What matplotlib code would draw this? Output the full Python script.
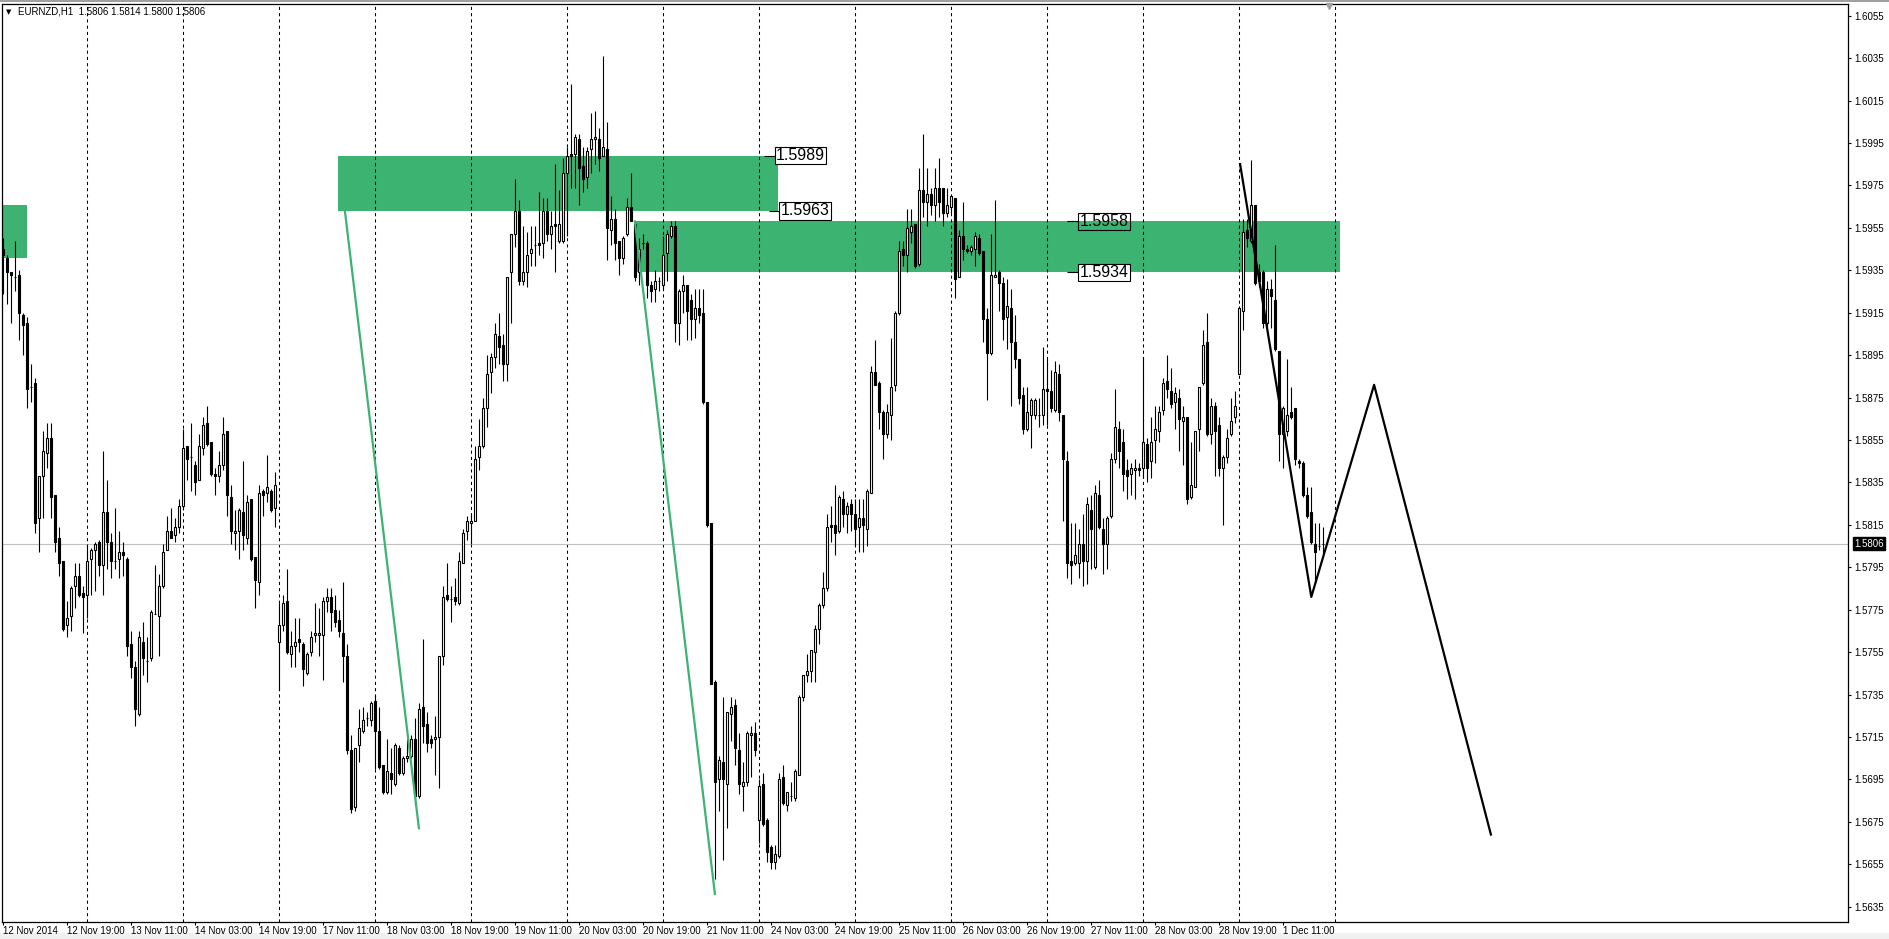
import numpy as np
import matplotlib.pyplot as plt
import matplotlib.transforms as mtransforms
from matplotlib.patches import Rectangle

plt.rcParams['font.family'] = ['Liberation Sans', 'DejaVu Sans']

# EURNZD H1, first bar 12 Nov 2014 03:00, one value per hourly bar
opens = [
    1.5945, 1.5941, 1.5934, 1.5932, 1.5933, 1.5914, 1.5910, 1.5880, 1.5882, 1.5818,
    1.5838, 1.5849, 1.5856, 1.5829, 1.5809, 1.5798, 1.5768, 1.5772, 1.5786, 1.5791,
    1.5783, 1.5782, 1.5799, 1.5803, 1.5807, 1.5796, 1.5821, 1.5807, 1.5798, 1.5799,
    1.5802, 1.5799, 1.5759, 1.5748, 1.5726, 1.5760, 1.5751, 1.5752, 1.5773, 1.5772,
    1.5786, 1.5803, 1.5812, 1.5810, 1.5814, 1.5824, 1.5852, 1.5847, 1.5843, 1.5836,
    1.5851, 1.5863, 1.5854, 1.5839, 1.5838, 1.5843, 1.5859, 1.5828, 1.5811, 1.5812,
    1.5821, 1.5809, 1.5827, 1.5800, 1.5788, 1.5831, 1.5830, 1.5831, 1.5823, 1.5760,
    1.5768, 1.5779, 1.5754, 1.5758, 1.5761, 1.5759, 1.5745, 1.5755, 1.5763, 1.5763,
    1.5763, 1.5779, 1.5781, 1.5775, 1.5770, 1.5764, 1.5753, 1.5709, 1.5682, 1.5711,
    1.5718, 1.5724, 1.5723, 1.5732, 1.5718, 1.5702, 1.5689, 1.5698, 1.5693, 1.5710,
    1.5698, 1.5705, 1.5706, 1.5714, 1.5687, 1.5729, 1.5721, 1.5714, 1.5714, 1.5715,
    1.5753, 1.5782, 1.5780, 1.5781, 1.5778, 1.5797, 1.5812, 1.5816, 1.5817, 1.5847,
    1.5852, 1.5870, 1.5887, 1.5894, 1.5904, 1.5900, 1.5891, 1.5934, 1.5952, 1.5963,
    1.5930, 1.5934, 1.5943, 1.5947, 1.5948, 1.5948, 1.5963, 1.5952, 1.5957, 1.5949,
    1.5949, 1.5981, 1.5990, 1.5990, 1.5997, 1.5984, 1.5979, 1.5992, 1.5997, 1.5997,
    1.5989, 1.5992, 1.5954, 1.5959, 1.5949, 1.5941, 1.5952, 1.5965, 1.5957, 1.5934,
    1.5948, 1.5948, 1.5928, 1.5926, 1.5930, 1.5928, 1.5943, 1.5951, 1.5956, 1.5910,
    1.5925, 1.5928, 1.5921, 1.5912, 1.5917, 1.5915, 1.5873, 1.5816, 1.5741, 1.5695,
    1.5703, 1.5693, 1.5726, 1.5730, 1.5709, 1.5692, 1.5694, 1.5716, 1.5717, 1.5676,
    1.5693, 1.5676, 1.5663, 1.5656, 1.5659, 1.5696, 1.5683, 1.5687, 1.5686, 1.5697,
    1.5734, 1.5744, 1.5746, 1.5755, 1.5766, 1.5777, 1.5785, 1.5815, 1.5815, 1.5812,
    1.5827, 1.5820, 1.5825, 1.5820, 1.5814, 1.5818, 1.5813, 1.5830, 1.5887, 1.5882,
    1.5868, 1.5858, 1.5867, 1.5881, 1.5915, 1.5945, 1.5942, 1.5953, 1.5957, 1.5938,
    1.5973, 1.5967, 1.5971, 1.5966, 1.5974, 1.5974, 1.5962, 1.5965, 1.5969, 1.5932,
    1.5951, 1.5945, 1.5944, 1.5945, 1.5950, 1.5944, 1.5912, 1.5896, 1.5932, 1.5934,
    1.5929, 1.5913, 1.5917, 1.5901, 1.5893, 1.5876, 1.5860, 1.5867, 1.5867, 1.5867,
    1.5867, 1.5879, 1.5878, 1.5869, 1.5886, 1.5867, 1.5845, 1.5798, 1.5797, 1.5797,
    1.5806, 1.5798, 1.5822, 1.5795, 1.5829, 1.5813, 1.5806, 1.5819, 1.5846, 1.5860,
    1.5854, 1.5841, 1.5839, 1.5841, 1.5842, 1.5842, 1.5853, 1.5845, 1.5855, 1.5859,
    1.5869, 1.5883, 1.5878, 1.5873, 1.5875, 1.5864, 1.5866, 1.5828, 1.5833, 1.5860,
    1.5882, 1.5901, 1.5858, 1.5871, 1.5862, 1.5842, 1.5847, 1.5858, 1.5866, 1.5886,
    1.5916, 1.5954, 1.5949, 1.5966, 1.5934, 1.5934, 1.5910, 1.5926, 1.5921, 1.5897,
    1.5858, 1.5859, 1.5868, 1.5870, 1.5845, 1.5844, 1.5829, 1.5821, 1.5806, 1.5805,
    1.5806,
]
highs = [
    1.5950, 1.5942, 1.5934, 1.5949, 1.5935, 1.5915, 1.5913, 1.5891, 1.5884, 1.5838,
    1.5859, 1.5863, 1.5863, 1.5829, 1.5814, 1.5798, 1.5779, 1.5786, 1.5797, 1.5797,
    1.5786, 1.5806, 1.5804, 1.5807, 1.5808, 1.5850, 1.5836, 1.5811, 1.5823, 1.5812,
    1.5807, 1.5800, 1.5765, 1.5751, 1.5765, 1.5769, 1.5762, 1.5775, 1.5796, 1.5792,
    1.5806, 1.5819, 1.5823, 1.5818, 1.5827, 1.5860, 1.5852, 1.5863, 1.5845, 1.5858,
    1.5866, 1.5871, 1.5854, 1.5842, 1.5850, 1.5866, 1.5859, 1.5834, 1.5822, 1.5823,
    1.5845, 1.5829, 1.5827, 1.5800, 1.5834, 1.5832, 1.5848, 1.5832, 1.5840, 1.5778,
    1.5782, 1.5794, 1.5765, 1.5771, 1.5771, 1.5760, 1.5755, 1.5765, 1.5778, 1.5776,
    1.5781, 1.5785, 1.5785, 1.5782, 1.5775, 1.5788, 1.5759, 1.5716, 1.5710, 1.5728,
    1.5729, 1.5727, 1.5732, 1.5735, 1.5729, 1.5702, 1.5714, 1.5710, 1.5712, 1.5711,
    1.5706, 1.5714, 1.5716, 1.5724, 1.5731, 1.5761, 1.5727, 1.5716, 1.5725, 1.5753,
    1.5786, 1.5797, 1.5786, 1.5790, 1.5802, 1.5813, 1.5819, 1.5820, 1.5852, 1.5865,
    1.5875, 1.5895, 1.5896, 1.5910, 1.5915, 1.5905, 1.5932, 1.5952, 1.5978, 1.5968,
    1.5956, 1.5953, 1.5956, 1.5956, 1.5972, 1.5969, 1.5969, 1.5963, 1.5985, 1.5973,
    1.5988, 1.5993, 1.6023, 1.5999, 1.5999, 1.5993, 1.5993, 1.6009, 1.6010, 1.6002,
    1.6036, 1.6005, 1.5970, 1.5964, 1.5949, 1.5951, 1.5969, 1.5981, 1.5958, 1.5950,
    1.5952, 1.5949, 1.5930, 1.5935, 1.5932, 1.5951, 1.5954, 1.5958, 1.5958, 1.5926,
    1.5933, 1.5928, 1.5924, 1.5926, 1.5926, 1.5926, 1.5873, 1.5816, 1.5742, 1.5706,
    1.5734, 1.5727, 1.5734, 1.5733, 1.5717, 1.5703, 1.5718, 1.5720, 1.5722, 1.5695,
    1.5698, 1.5677, 1.5664, 1.5664, 1.5698, 1.5702, 1.5689, 1.5694, 1.5700, 1.5735,
    1.5744, 1.5754, 1.5756, 1.5768, 1.5778, 1.5793, 1.5820, 1.5824, 1.5834, 1.5829,
    1.5831, 1.5826, 1.5827, 1.5827, 1.5827, 1.5827, 1.5832, 1.5890, 1.5902, 1.5883,
    1.5869, 1.5872, 1.5903, 1.5916, 1.5949, 1.5949, 1.5964, 1.5964, 1.5957, 1.5983,
    1.5999, 1.5983, 1.5974, 1.5983, 1.5988, 1.5974, 1.5974, 1.5970, 1.5969, 1.5954,
    1.5967, 1.5947, 1.5947, 1.5953, 1.5952, 1.5944, 1.5917, 1.5952, 1.5968, 1.5935,
    1.5932, 1.5931, 1.5926, 1.5914, 1.5893, 1.5880, 1.5880, 1.5875, 1.5875, 1.5875,
    1.5899, 1.5893, 1.5888, 1.5892, 1.5891, 1.5867, 1.5850, 1.5816, 1.5816, 1.5813,
    1.5820, 1.5828, 1.5829, 1.5834, 1.5836, 1.5818, 1.5819, 1.5849, 1.5879, 1.5864,
    1.5860, 1.5846, 1.5844, 1.5846, 1.5844, 1.5894, 1.5856, 1.5866, 1.5871, 1.5871,
    1.5884, 1.5895, 1.5889, 1.5880, 1.5879, 1.5871, 1.5866, 1.5854, 1.5859, 1.5880,
    1.5907, 1.5915, 1.5875, 1.5873, 1.5866, 1.5848, 1.5860, 1.5875, 1.5878, 1.5918,
    1.5959, 1.5959, 1.5987, 1.5966, 1.5938, 1.5935, 1.5930, 1.5931, 1.5947, 1.5897,
    1.5871, 1.5893, 1.5880, 1.5870, 1.5846, 1.5845, 1.5833, 1.5833, 1.5816, 1.5816,
    1.5814,
]
lows = [
    1.5924, 1.5919, 1.5910, 1.5925, 1.5902, 1.5895, 1.5870, 1.5873, 1.5811, 1.5802,
    1.5818, 1.5842, 1.5818, 1.5802, 1.5791, 1.5765, 1.5762, 1.5765, 1.5776, 1.5781,
    1.5764, 1.5771, 1.5782, 1.5784, 1.5791, 1.5782, 1.5794, 1.5790, 1.5794, 1.5790,
    1.5791, 1.5753, 1.5743, 1.5720, 1.5725, 1.5744, 1.5741, 1.5751, 1.5773, 1.5753,
    1.5785, 1.5803, 1.5809, 1.5807, 1.5811, 1.5822, 1.5836, 1.5831, 1.5829, 1.5836,
    1.5848, 1.5852, 1.5838, 1.5829, 1.5835, 1.5841, 1.5819, 1.5806, 1.5803, 1.5799,
    1.5803, 1.5806, 1.5798, 1.5776, 1.5782, 1.5819, 1.5826, 1.5821, 1.5814, 1.5737,
    1.5765, 1.5754, 1.5748, 1.5748, 1.5755, 1.5739, 1.5744, 1.5753, 1.5760, 1.5753,
    1.5742, 1.5774, 1.5765, 1.5767, 1.5762, 1.5741, 1.5707, 1.5679, 1.5680, 1.5703,
    1.5717, 1.5720, 1.5720, 1.5700, 1.5700, 1.5688, 1.5688, 1.5688, 1.5692, 1.5697,
    1.5697, 1.5703, 1.5705, 1.5683, 1.5686, 1.5712, 1.5708, 1.5710, 1.5697, 1.5691,
    1.5749, 1.5779, 1.5769, 1.5777, 1.5777, 1.5797, 1.5808, 1.5806, 1.5817, 1.5841,
    1.5851, 1.5861, 1.5877, 1.5889, 1.5891, 1.5883, 1.5883, 1.5910, 1.5946, 1.5928,
    1.5928, 1.5927, 1.5937, 1.5937, 1.5942, 1.5941, 1.5949, 1.5945, 1.5934, 1.5948,
    1.5948, 1.5951, 1.5974, 1.5974, 1.5966, 1.5972, 1.5974, 1.5981, 1.5985, 1.5982,
    1.5989, 1.5940, 1.5947, 1.5940, 1.5933, 1.5938, 1.5951, 1.5958, 1.5930, 1.5928,
    1.5945, 1.5922, 1.5920, 1.5920, 1.5925, 1.5926, 1.5930, 1.5950, 1.5901, 1.5900,
    1.5915, 1.5902, 1.5902, 1.5903, 1.5910, 1.5872, 1.5814, 1.5740, 1.5648, 1.5680,
    1.5657, 1.5672, 1.5713, 1.5702, 1.5688, 1.5680, 1.5692, 1.5696, 1.5706, 1.5665,
    1.5673, 1.5656, 1.5653, 1.5653, 1.5658, 1.5683, 1.5680, 1.5685, 1.5685, 1.5697,
    1.5732, 1.5741, 1.5741, 1.5741, 1.5759, 1.5776, 1.5784, 1.5807, 1.5801, 1.5811,
    1.5814, 1.5811, 1.5812, 1.5805, 1.5802, 1.5802, 1.5805, 1.5830, 1.5881, 1.5860,
    1.5846, 1.5856, 1.5855, 1.5878, 1.5914, 1.5937, 1.5934, 1.5948, 1.5936, 1.5937,
    1.5960, 1.5956, 1.5961, 1.5958, 1.5960, 1.5956, 1.5960, 1.5962, 1.5922, 1.5932,
    1.5940, 1.5943, 1.5942, 1.5937, 1.5942, 1.5901, 1.5874, 1.5895, 1.5932, 1.5916,
    1.5902, 1.5898, 1.5871, 1.5889, 1.5872, 1.5858, 1.5859, 1.5851, 1.5865, 1.5861,
    1.5862, 1.5862, 1.5868, 1.5868, 1.5864, 1.5817, 1.5790, 1.5787, 1.5796, 1.5790,
    1.5786, 1.5787, 1.5794, 1.5794, 1.5813, 1.5792, 1.5794, 1.5818, 1.5844, 1.5842,
    1.5831, 1.5827, 1.5829, 1.5827, 1.5838, 1.5837, 1.5835, 1.5837, 1.5844, 1.5854,
    1.5867, 1.5875, 1.5870, 1.5860, 1.5850, 1.5843, 1.5825, 1.5827, 1.5833, 1.5850,
    1.5881, 1.5857, 1.5853, 1.5838, 1.5838, 1.5815, 1.5844, 1.5857, 1.5863, 1.5886,
    1.5907, 1.5946, 1.5948, 1.5928, 1.5927, 1.5908, 1.5908, 1.5908, 1.5897, 1.5845,
    1.5842, 1.5857, 1.5865, 1.5843, 1.5842, 1.5828, 1.5818, 1.5806, 1.5787, 1.5803,
    1.5800,
]
closes = [
    1.5942, 1.5934, 1.5933, 1.5932, 1.5915, 1.5909, 1.5879, 1.5880, 1.5816, 1.5838,
    1.5850, 1.5856, 1.5828, 1.5807, 1.5797, 1.5766, 1.5771, 1.5785, 1.5791, 1.5782,
    1.5781, 1.5798, 1.5803, 1.5806, 1.5796, 1.5821, 1.5807, 1.5798, 1.5798, 1.5802,
    1.5801, 1.5758, 1.5748, 1.5728, 1.5762, 1.5752, 1.5751, 1.5774, 1.5773, 1.5786,
    1.5802, 1.5812, 1.5809, 1.5814, 1.5824, 1.5851, 1.5846, 1.5847, 1.5835, 1.5852,
    1.5862, 1.5853, 1.5839, 1.5838, 1.5843, 1.5858, 1.5829, 1.5812, 1.5812, 1.5822,
    1.5810, 1.5826, 1.5799, 1.5789, 1.5830, 1.5829, 1.5833, 1.5822, 1.5834, 1.5768,
    1.5778, 1.5755, 1.5758, 1.5760, 1.5760, 1.5747, 1.5754, 1.5762, 1.5764, 1.5764,
    1.5779, 1.5781, 1.5774, 1.5769, 1.5765, 1.5753, 1.5709, 1.5681, 1.5710, 1.5719,
    1.5723, 1.5724, 1.5731, 1.5718, 1.5701, 1.5689, 1.5699, 1.5695, 1.5711, 1.5698,
    1.5705, 1.5706, 1.5714, 1.5687, 1.5728, 1.5720, 1.5712, 1.5712, 1.5715, 1.5753,
    1.5781, 1.5780, 1.5780, 1.5779, 1.5798, 1.5811, 1.5817, 1.5817, 1.5846, 1.5852,
    1.5870, 1.5886, 1.5894, 1.5905, 1.5899, 1.5891, 1.5932, 1.5952, 1.5963, 1.5930,
    1.5934, 1.5942, 1.5945, 1.5947, 1.5947, 1.5963, 1.5952, 1.5956, 1.5956, 1.5957,
    1.5981, 1.5989, 1.5989, 1.5998, 1.5983, 1.5978, 1.5991, 1.5997, 1.5998, 1.5988,
    1.5993, 1.5955, 1.5959, 1.5948, 1.5941, 1.5950, 1.5965, 1.5958, 1.5932, 1.5945,
    1.5948, 1.5928, 1.5925, 1.5930, 1.5930, 1.5942, 1.5952, 1.5956, 1.5910, 1.5925,
    1.5928, 1.5916, 1.5912, 1.5917, 1.5914, 1.5873, 1.5815, 1.5740, 1.5694, 1.5704,
    1.5695, 1.5727, 1.5729, 1.5710, 1.5693, 1.5694, 1.5717, 1.5717, 1.5709, 1.5692,
    1.5674, 1.5661, 1.5656, 1.5660, 1.5695, 1.5684, 1.5689, 1.5687, 1.5699, 1.5734,
    1.5744, 1.5746, 1.5756, 1.5766, 1.5777, 1.5785, 1.5814, 1.5814, 1.5811, 1.5828,
    1.5820, 1.5824, 1.5820, 1.5813, 1.5818, 1.5815, 1.5831, 1.5887, 1.5881, 1.5868,
    1.5858, 1.5868, 1.5880, 1.5915, 1.5944, 1.5942, 1.5955, 1.5956, 1.5937, 1.5973,
    1.5967, 1.5971, 1.5966, 1.5974, 1.5967, 1.5962, 1.5966, 1.5970, 1.5931, 1.5951,
    1.5945, 1.5944, 1.5946, 1.5951, 1.5943, 1.5912, 1.5896, 1.5933, 1.5933, 1.5929,
    1.5912, 1.5918, 1.5901, 1.5893, 1.5875, 1.5860, 1.5868, 1.5874, 1.5874, 1.5867,
    1.5879, 1.5878, 1.5870, 1.5887, 1.5868, 1.5846, 1.5797, 1.5796, 1.5801, 1.5806,
    1.5798, 1.5825, 1.5813, 1.5830, 1.5814, 1.5806, 1.5818, 1.5846, 1.5861, 1.5850,
    1.5839, 1.5838, 1.5842, 1.5842, 1.5841, 1.5854, 1.5842, 1.5854, 1.5860, 1.5868,
    1.5882, 1.5879, 1.5872, 1.5877, 1.5865, 1.5866, 1.5827, 1.5834, 1.5859, 1.5880,
    1.5900, 1.5858, 1.5871, 1.5859, 1.5842, 1.5847, 1.5856, 1.5864, 1.5871, 1.5917,
    1.5953, 1.5950, 1.5966, 1.5929, 1.5930, 1.5910, 1.5926, 1.5923, 1.5898, 1.5858,
    1.5870, 1.5867, 1.5866, 1.5846, 1.5844, 1.5829, 1.5819, 1.5807, 1.5802, 1.5805,
    1.5806,
]

# time axis: label every 16 bars, dotted separator at each day start
tick_bars = list(range(0, 321, 16))
tick_labels = ['12 Nov 2014', '12 Nov 19:00', '13 Nov 11:00', '14 Nov 03:00',
               '14 Nov 19:00', '17 Nov 11:00', '18 Nov 03:00', '18 Nov 19:00',
               '19 Nov 11:00', '20 Nov 03:00', '20 Nov 19:00', '21 Nov 11:00',
               '24 Nov 03:00', '24 Nov 19:00', '25 Nov 11:00', '26 Nov 03:00',
               '26 Nov 19:00', '27 Nov 11:00', '28 Nov 03:00', '28 Nov 19:00',
               '1 Dec 11:00']
day_bars = [21, 45, 69, 93, 117, 141, 165, 189, 213, 237, 261, 285, 309, 333]
price_ticks = [1.6055, 1.6035, 1.6015, 1.5995, 1.5975, 1.5955, 1.5935, 1.5915,
               1.5895, 1.5875, 1.5855, 1.5835, 1.5815, 1.5795, 1.5775, 1.5755,
               1.5735, 1.5715, 1.5695, 1.5675, 1.5655, 1.5635]

# supply zones (bar from, bar to, low, high)
zones = [(-0.3, 5.85, 1.5941, 1.5966),
         (83.75, 193.7, 1.5963, 1.5989),
         (157.9, 334.2, 1.5934, 1.5958)]
zone_labels = [(192.9, 1.5989), (194.0, 1.5963), (268.7, 1.5958), (268.7, 1.5934)]
green_lines = [((85.4, 103.9), (1.5963, 1.5672)),
               ((157.9, 177.9), (1.5958, 1.5641))]
zigzag_x = [309.2, 327.0, 342.7, 371.9]
zigzag_y = [1.5985, 1.5781, 1.5881, 1.5669]
last_price = 1.5806
header = 'EURNZD,H1  1.5806 1.5814 1.5800 1.5806'


def main():
    W, H = 1890, 939
    fig = plt.figure(figsize=(W / 100, H / 100), dpi=100)
    fig.patch.set_facecolor('white')

    # plot frame in pixels
    left, right, top, bottom = 2.3, 1848, 3.5, 922
    ax = fig.add_axes([left / W, (H - bottom) / H, (right - left) / W, (bottom - top) / H])
    px_per_price = 21214.0
    y_top = 1.6055 + (15.7 - top) / px_per_price
    y_bot = 1.6055 - (bottom - 15.7) / px_per_price
    ax.set_xlim((left - 3.3) / 4, (right - 3.3) / 4)
    ax.set_ylim(y_bot, y_top)

    green = '#3CB371'
    for x0, x1, lo, hi in zones:
        ax.add_patch(Rectangle((x0, lo), x1 - x0, hi - lo, facecolor=green,
                               edgecolor='none', zorder=1))

    for d in day_bars:
        ax.axvline(d, color='black', lw=0.75, ls=(0, (3, 3)), zorder=1.5)

    ax.axhline(last_price, color='#C0C0C0', lw=0.8, zorder=1.6)

    o = np.array(opens)
    h = np.array(highs)
    l = np.array(lows)
    c = np.array(closes)
    x = np.arange(len(c))
    ax.vlines(x, np.minimum(l, np.minimum(o, c)), np.maximum(h, np.maximum(o, c)),
              color='black', lw=0.8, zorder=3)
    up = c >= o
    ax.bar(x[up], (c - o)[up], bottom=o[up], width=0.5, color='white',
           edgecolor='black', lw=0.8, zorder=3.5)
    ax.bar(x[~up], (o - c)[~up], bottom=c[~up], width=0.5, color='black',
           edgecolor='black', lw=0.8, zorder=3.5)

    for xs, ys in green_lines:
        ax.plot(xs, ys, color=green, lw=1.6, zorder=4)
    ax.plot(zigzag_x, zigzag_y, color='black', lw=1.6, zorder=4)

    for i, (bx, p) in enumerate(zone_labels):
        ax.hlines(p, bx - 2.7, bx, color='black', lw=0.8, zorder=5)
        fc = 'none' if i == 2 else 'white'
        ax.text(bx + 0.3, p, '%.4f' % p, fontsize=11.5, ha='left', va='center',
                zorder=6, bbox=dict(boxstyle='square,pad=0.08', fc=fc, ec='black', lw=0.8))

    # axes styling like the terminal
    for s in ax.spines.values():
        s.set_color('black')
        s.set_linewidth(0.9)
    ax.yaxis.tick_right()
    ax.set_yticks(price_ticks, ['%.4f' % p for p in price_ticks])
    ax.tick_params(axis='y', direction='out', length=2.5, width=0.8, pad=2.2,
                   labelsize=7, colors='black')
    ax.set_xticks(tick_bars, tick_labels)
    for t in ax.get_xticklabels():
        t.set_horizontalalignment('left')
    ax.tick_params(axis='x', direction='out', length=2.5, width=0.8, pad=0.5,
                   labelsize=7, colors='black')

    # current price tag on the scale
    trans = mtransforms.blended_transform_factory(ax.transAxes, ax.transData)
    ax.annotate('%.4f' % last_price, xy=(1, last_price), xycoords=trans,
                xytext=(4.5, 0), textcoords='offset points', ha='left', va='center',
                fontsize=7, color='white', annotation_clip=False,
                bbox=dict(boxstyle='square,pad=0.15', fc='black', ec='black'))

    # chart shift marker and header
    ax.plot([331.4], [y_top - 2.5 / px_per_price], marker='v', ms=5, color='#A0A0A0',
            clip_on=False, zorder=6)
    fig.text(9 / W, 1 - 12 / H, '\u25BC', fontsize=5, ha='center', va='center',
             family=['DejaVu Sans'])
    fig.text(18 / W, 1 - 12 / H, header, fontsize=7, ha='left', va='center')

    # window edges
    fig.patches.append(Rectangle((0, 1 - 2 / H), 1, 2 / H, transform=fig.transFigure,
                                 facecolor='#A0A0A0', edgecolor='none'))
    fig.patches.append(Rectangle((0, 0), 1, 6 / H, transform=fig.transFigure,
                                 facecolor='#F0F0F0', edgecolor='none', zorder=-1))

    fig.savefig('out.png', dpi=100)


if __name__ == '__main__':
    main()
